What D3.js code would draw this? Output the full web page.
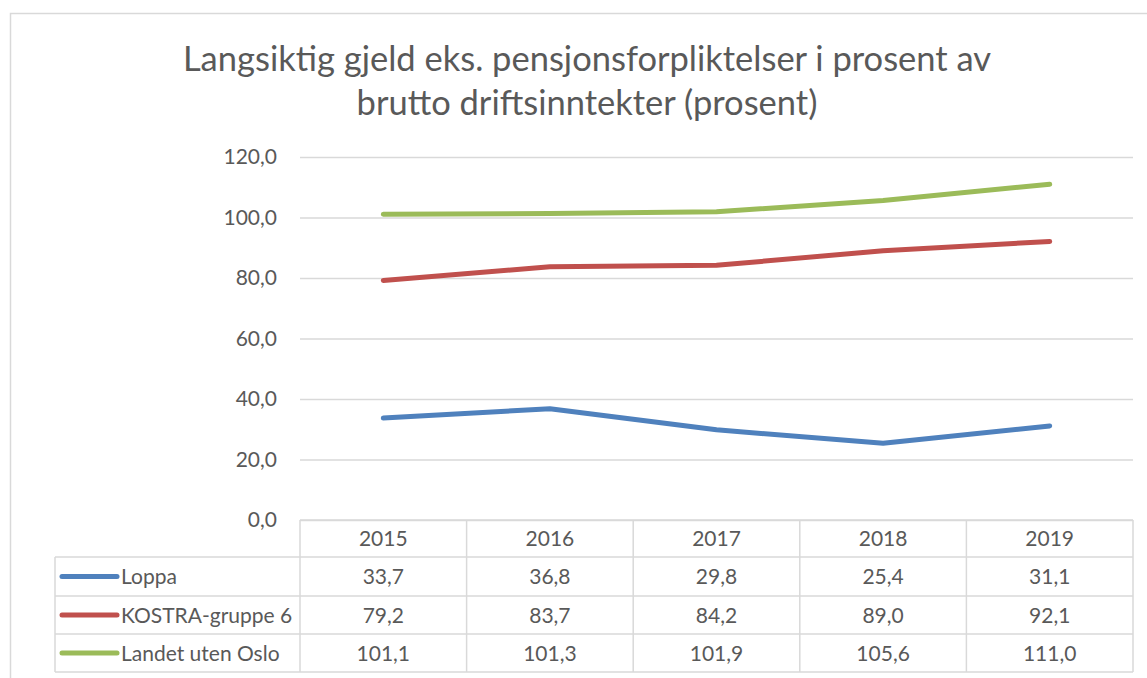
<!DOCTYPE html>
<html>
<head>
<meta charset="utf-8">
<script src="https://cdn.jsdelivr.net/npm/d3@7"></script>
<style>
  body { margin: 0; background: #fff; }
  text { font-family: Lato, "Open Sans", sans-serif; fill: #595959; }
</style>
</head>
<body>
<div id="chart"></div>
<script>
var width = 1147, height = 678;

// data
var years = ["2015", "2016", "2017", "2018", "2019"];
var seriesNames = ["Loppa", "KOSTRA-gruppe 6", "Landet uten Oslo"];
var loppa = [33.7, 36.8, 29.8, 25.4, 31.1];
var kostra = [79.2, 83.7, 84.2, 89.0, 92.1];
var landet = [101.1, 101.3, 101.9, 105.6, 111.0];
var yTicks = [0, 20, 40, 60, 80, 100, 120];
var colors = ["#4f81bd", "#c0504d", "#9bbb59"];
var titleLines = ["Langsiktig gjeld eks. pensjonsforpliktelser i prosent av",
                  "brutto driftsinntekter (prosent)"];

var allSeries = [loppa, kostra, landet];
var fmt = function (v) { return v.toFixed(1).replace(".", ","); };

var svg = d3.select("#chart").append("svg")
  .attr("width", width).attr("height", height);

// outer chart border
svg.append("rect")
  .attr("x", 10.5).attr("y", 13.5)
  .attr("width", width).attr("height", height)
  .attr("fill", "none").attr("stroke", "#d9d9d9").attr("stroke-width", 1.5);

// title
svg.append("g").selectAll("text")
  .data(titleLines)
  .enter().append("text")
  .attr("x", 587)
  .attr("y", function (d, i) { return 71 + i * 44; })
  .attr("text-anchor", "middle")
  .style("font-size", "34.5px")
  .text(function (d) { return d; });

var plotLeft = 300, plotRight = 1133, plotTop = 157, plotBottom = 520;

var x = d3.scaleBand().domain(years).range([plotLeft, plotRight]);
var y = d3.scaleLinear().domain([0, 120]).range([plotBottom, plotTop]);

// gridlines + y labels
var yAxis = d3.axisLeft(y)
  .tickValues(yTicks)
  .tickSize(-(plotRight - plotLeft))
  .tickPadding(23)
  .tickFormat(fmt);

var gy = svg.append("g")
  .attr("transform", "translate(" + plotLeft + ",0)")
  .call(yAxis);
gy.select(".domain").remove();
gy.selectAll(".tick line").attr("stroke", "#d9d9d9").attr("stroke-width", 1.5);
gy.selectAll(".tick text")
  .style("font-size", "21px").style("fill", "#595959")
  .style("font-family", "Lato, sans-serif");

// lines
var line = d3.line()
  .x(function (d, i) { return x(years[i]) + x.bandwidth() / 2; })
  .y(function (d) { return y(d); });

svg.append("g").selectAll("path")
  .data(allSeries)
  .enter().append("path")
  .attr("d", line)
  .attr("fill", "none")
  .attr("stroke", function (d, i) { return colors[i]; })
  .attr("stroke-width", 5)
  .attr("stroke-linecap", "round")
  .attr("stroke-linejoin", "round");

// data table
var rowTop = [520, 557, 596, 634, 672];
var tableLeft = 55;
var grid = svg.append("g")
  .attr("stroke", "#d9d9d9").attr("stroke-width", 1.5);

// horizontal lines
rowTop.forEach(function (ry, i) {
  grid.append("line")
    .attr("x1", i === 0 ? plotLeft : tableLeft).attr("x2", plotRight)
    .attr("y1", ry).attr("y2", ry);
});
// vertical lines
years.forEach(function (yr, i) {
  grid.append("line")
    .attr("x1", x(yr)).attr("x2", x(yr))
    .attr("y1", rowTop[0]).attr("y2", rowTop[4]);
});
grid.append("line").attr("x1", plotRight).attr("x2", plotRight)
  .attr("y1", rowTop[0]).attr("y2", rowTop[4]);
grid.append("line").attr("x1", tableLeft).attr("x2", tableLeft)
  .attr("y1", rowTop[1]).attr("y2", rowTop[4]);

// header years
svg.append("g").selectAll("text")
  .data(years)
  .enter().append("text")
  .attr("x", function (d) { return x(d) + x.bandwidth() / 2; })
  .attr("y", (rowTop[0] + rowTop[1]) / 2 + 7.5)
  .attr("text-anchor", "middle")
  .style("font-size", "21px")
  .text(function (d) { return d; });

// rows
allSeries.forEach(function (vals, si) {
  var cy = (rowTop[si + 1] + rowTop[si + 2]) / 2;
  svg.append("line")
    .attr("x1", 62).attr("x2", 117)
    .attr("y1", cy).attr("y2", cy)
    .attr("stroke", colors[si]).attr("stroke-width", 5)
    .attr("stroke-linecap", "round");
  svg.append("text")
    .attr("x", 121).attr("y", cy + 7.5)
    .style("font-size", "21px")
    .text(seriesNames[si]);
  svg.append("g").selectAll("text")
    .data(vals)
    .enter().append("text")
    .attr("x", function (d, i) { return x(years[i]) + x.bandwidth() / 2; })
    .attr("y", cy + 7.5)
    .attr("text-anchor", "middle")
    .style("font-size", "21px")
    .text(function (d) { return fmt(d); });
});
</script>
</body>
</html>
